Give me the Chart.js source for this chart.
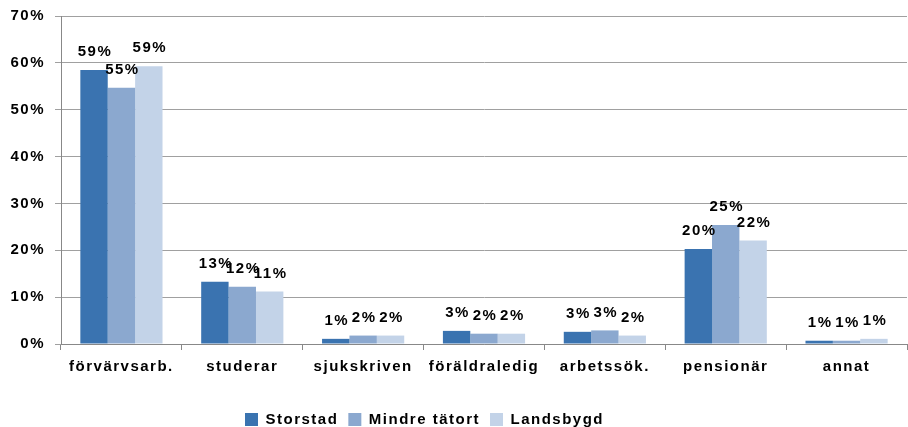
<!DOCTYPE html>
<html>
<head>
<meta charset="utf-8">
<script src="https://cdn.jsdelivr.net/npm/chart.js@4/dist/chart.umd.min.js"></script>
<style>
  html, body { margin: 0; padding: 0; background: #fff; }
  #wrap { width: 908px; height: 427px; position: relative; }
</style>
</head>
<body>
<div id="wrap"><canvas id="barChart"></canvas></div>
<script>
// kategorier och värden (andel i procent)
const categories = ['förvärvsarb.', 'studerar', 'sjukskriven', 'föräldraledig', 'arbetssök.', 'pensionär', 'annat'];
const storstad = [58.5, 13.3, 1.1, 2.8, 2.6, 20.3, 0.7];
const mindreTatort = [54.7, 12.2, 1.8, 2.2, 2.9, 25.4, 0.7];
const landsbygd = [59.3, 11.2, 1.8, 2.2, 1.8, 22.1, 1.1];
const yTicks = [0, 10, 20, 30, 40, 50, 60, 70];

const seriesNames = ['Storstad', 'Mindre tätort', 'Landsbygd'];
const seriesColors = ['#3A73B0', '#8BA8CF', '#C3D3E8'];

// bredare bokstavsavstånd som i originalet
const spacingPlugin = {
    id: 'spacing',
    beforeInit(chart) { chart.ctx.letterSpacing = '1.5px'; },
    beforeUpdate(chart) { chart.ctx.letterSpacing = '1.5px'; },
    beforeDraw(chart) { chart.ctx.letterSpacing = '1.5px'; },
    afterLayout(chart) {
        // förklaringen sitter lite till vänster om mitten i originalet
        if (chart.legend) {
            chart.legend.left -= 29;
            chart.legend.right -= 29;
        }
    }
};

// etiketter ovanför staplarna
const labelPlugin = {
    id: 'barLabels',
    afterDatasetsDraw(chart) {
        const ctx = chart.ctx;
        ctx.save();
        ctx.letterSpacing = '1.5px';
        ctx.font = 'bold 15px "Liberation Sans", Arial, sans-serif';
        ctx.fillStyle = '#000';
        ctx.textAlign = 'center';
        ctx.textBaseline = 'middle';
        chart.data.datasets.forEach(function(ds, i) {
            const meta = chart.getDatasetMeta(i);
            meta.data.forEach(function(bar, j) {
                ctx.fillText(Math.round(ds.data[j]) + '%', bar.x + 1, bar.y - 18);
            });
        });
        ctx.restore();
    }
};

const datasets = [storstad, mindreTatort, landsbygd].map(function(vals, i) {
    return {
        label: seriesNames[i],
        data: vals,
        backgroundColor: seriesColors[i],
        borderWidth: 0,
        categoryPercentage: 0.68,
        barPercentage: 1.0
    };
});

const font = { family: '"Liberation Sans", Arial, sans-serif', weight: 'bold' };

new Chart(document.getElementById('barChart').getContext('2d'), {
    type: 'bar',
    data: { labels: categories, datasets: datasets },
    options: {
        responsive: true,
        maintainAspectRatio: false,
        animation: false,
        layout: { padding: { top: 16, right: 1, left: 0, bottom: -10 } },
        plugins: {
            legend: {
                position: 'bottom',
                labels: {
                    boxWidth: 13, boxHeight: 13, padding: 10,
                    color: '#000',
                    font: Object.assign({ size: 15 }, font)
                }
            },
            tooltip: { enabled: false }
        },
        scales: {
            x: {
                afterFit(axis) { axis.height = 58; },
                grid: { display: true, drawOnChartArea: false, tickLength: 6, color: '#888', offset: true },
                border: { color: '#888' },
                ticks: { color: '#000', padding: 8, font: Object.assign({ size: 15 }, font) }
            },
            y: {
                min: 0, max: 70,
                afterBuildTicks(axis) { axis.ticks = yTicks.map(function(v) { return { value: v }; }); },
                afterFit(axis) { axis.width = 61; axis.paddingTop = 0; },
                grid: { color: '#A0A0A0', tickLength: 6 },
                border: { color: '#888' },
                ticks: {
                    color: '#000', padding: 10,
                    font: Object.assign({ size: 15 }, font),
                    callback: function(v) { return v + '%'; }
                }
            }
        }
    },
    plugins: [spacingPlugin, labelPlugin]
});
</script>
</body>
</html>
